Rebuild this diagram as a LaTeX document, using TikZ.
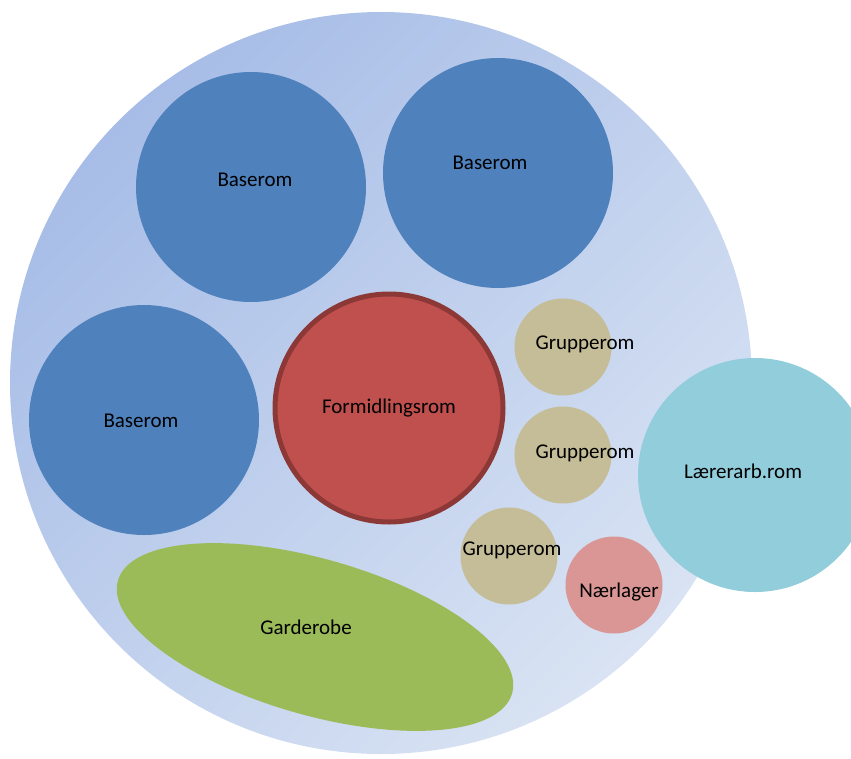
\documentclass[tikz,border=0pt]{standalone}
\usepackage{fontspec}
\setmainfont{Carlito}
\usetikzlibrary{shapes.geometric}
\definecolor{hallTop}{HTML}{A7BDE7}
\definecolor{hallBot}{HTML}{D9E3F3}
\definecolor{baseBlue}{HTML}{4F81BD}
\definecolor{formRed}{HTML}{C0504D}
\definecolor{formEdge}{HTML}{8C3836}
\definecolor{grpTan}{HTML}{C4BD97}
\definecolor{lagerPink}{HTML}{D99694}
\definecolor{laererCyan}{HTML}{92CDDC}
\definecolor{garderobeGreen}{HTML}{9BBB59}

\begin{document}
\begin{tikzpicture}[x=1pt, y=-1pt,
            font=\fontsize{21}{25}\selectfont,
            room/.style={circle, inner sep=0pt},
            baserom/.style={room, fill=baseBlue, minimum size=230pt},
            formidling/.style={room, fill=formRed, draw=formEdge, line width=5pt, minimum size=228pt},
            grupperom/.style={room, fill=grpTan, minimum size=97pt},
            lager/.style={room, fill=lagerPink, minimum size=97pt},
            laerer/.style={room, fill=laererCyan, minimum size=234pt},
            garderobe/.style={ellipse, inner sep=0pt, fill=garderobeGreen, minimum width=410pt, minimum height=156pt, rotate=-16}
        ]

            \useasboundingbox (0,0) rectangle (851,758);
            \clip (0,0) rectangle (851,758);

% Outer area
            \node[room, minimum size=742pt, top color=hallTop, bottom color=hallBot, shading angle=45] (hall) at (381,383) {};

% Base rooms
            \node[baserom, label={[xshift=4pt, yshift=7pt]center:Baserom}] (base1) at (251,187) {};
            \node[baserom, label={[xshift=-8pt, yshift=10pt]center:Baserom}] (base2) at (498,173) {};
            \node[baserom, label={[xshift=-3pt, yshift=-1pt]center:Baserom}] (base3) at (144,420) {};

% Centre room
            \node[formidling] (form) at (389,408) {Formidlingsrom};

% Group rooms
            \node[grupperom, label={[xshift=22pt, yshift=3pt]center:Grupperom}] (grp1) at (563,347) {};
            \node[grupperom, label={[xshift=22pt, yshift=2pt]center:Grupperom}] (grp2) at (563,455) {};
            \node[grupperom, label={[xshift=3pt, yshift=6pt]center:Grupperom}] (grp3) at (509,556) {};

% Storage and teachers
            \node[lager, label={[xshift=5pt, yshift=-7pt]center:Nærlager}] (lager) at (614,585) {};
            \node[laerer, label={[xshift=-12pt, yshift=4pt]center:Lærerarb.rom}] (laerer) at (755,475) {};

% Wardrobe
            \node[garderobe] (gard) at (315,637) {};
            \node (gard-txt) at (306,627) {Garderobe};

        \end{tikzpicture}
\end{document}
